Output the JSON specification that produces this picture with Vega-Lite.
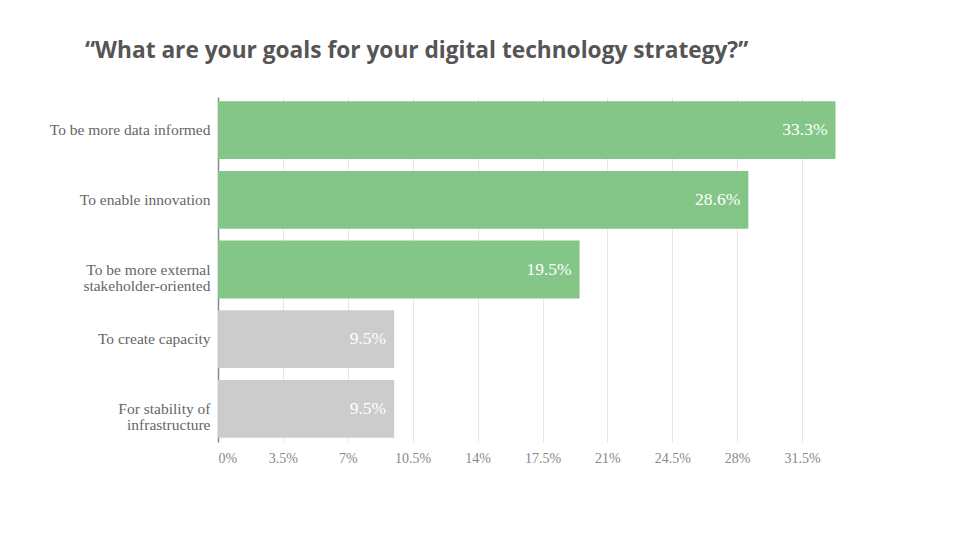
{
  "$schema": "https://vega.github.io/schema/vega-lite/v6.json",
  "autosize": "none",
  "width": 649,
  "height": 345,
  "padding": {"left": 218, "top": 97, "right": 93, "bottom": 98},
  "background": "white",
  "title": {
    "text": "“What are your goals for your digital technology strategy?”",
    "anchor": "start",
    "frame": "group",
    "dx": -133,
    "offset": 34,
    "font": "Open Sans",
    "fontSize": 22.7,
    "fontWeight": "bold",
    "color": "#555555"
  },
  "config": {"view": {"stroke": null}},
  "data": {
    "values": [
      {"goal": "To be more data informed", "share": 0.333, "group": "top"},
      {"goal": "To enable innovation", "share": 0.286, "group": "top"},
      {"goal": "To be more external|stakeholder-oriented", "share": 0.195, "group": "top"},
      {"goal": "To create capacity", "share": 0.095, "group": "other"},
      {"goal": "For stability of|infrastructure", "share": 0.095, "group": "other"}
    ]
  },
  "encoding": {
    "y": {
      "field": "goal",
      "type": "nominal",
      "sort": null,
      "scale": {"paddingInner": 0.17, "paddingOuter": 0.06},
      "axis": {
        "title": null,
        "labelExpr": "split(datum.label, '|')",
        "labelFont": "Liberation Serif",
        "labelFontSize": 15.5,
        "labelColor": "#666666",
        "labelPadding": 8,
        "labelLineHeight": 16,
        "ticks": false,
        "domain": true,
        "domainColor": "#888888",
        "domainWidth": 1.5,
        "grid": false
      }
    },
    "x": {
      "field": "share",
      "type": "quantitative",
      "scale": {"domain": [0, 0.35], "nice": false},
      "axis": {
        "title": null,
        "values": [0, 0.035, 0.07, 0.105, 0.14, 0.175, 0.21, 0.245, 0.28, 0.315],
        "labelExpr": "format(datum.value * 100, '.1~f') + '%'",
        "labelFont": "Liberation Serif",
        "labelFontSize": 14,
        "labelColor": "#888888",
        "labelPadding": 9,
        "ticks": false,
        "domain": false,
        "grid": true,
        "gridColor": "#e6e6e6",
        "gridWidth": 1
      }
    }
  },
  "layer": [
    {
      "mark": {"type": "bar"},
      "encoding": {
        "color": {
          "field": "group",
          "type": "nominal",
          "scale": {"domain": ["top", "other"], "range": ["#83c687", "#cccccc"]},
          "legend": null
        }
      }
    },
    {
      "mark": {"type": "text", "align": "right", "dx": -8, "font": "Liberation Serif", "fontSize": 17.5, "color": "white"},
      "encoding": {
        "text": {"field": "share", "type": "quantitative", "format": ".1%"}
      }
    }
  ]
}
